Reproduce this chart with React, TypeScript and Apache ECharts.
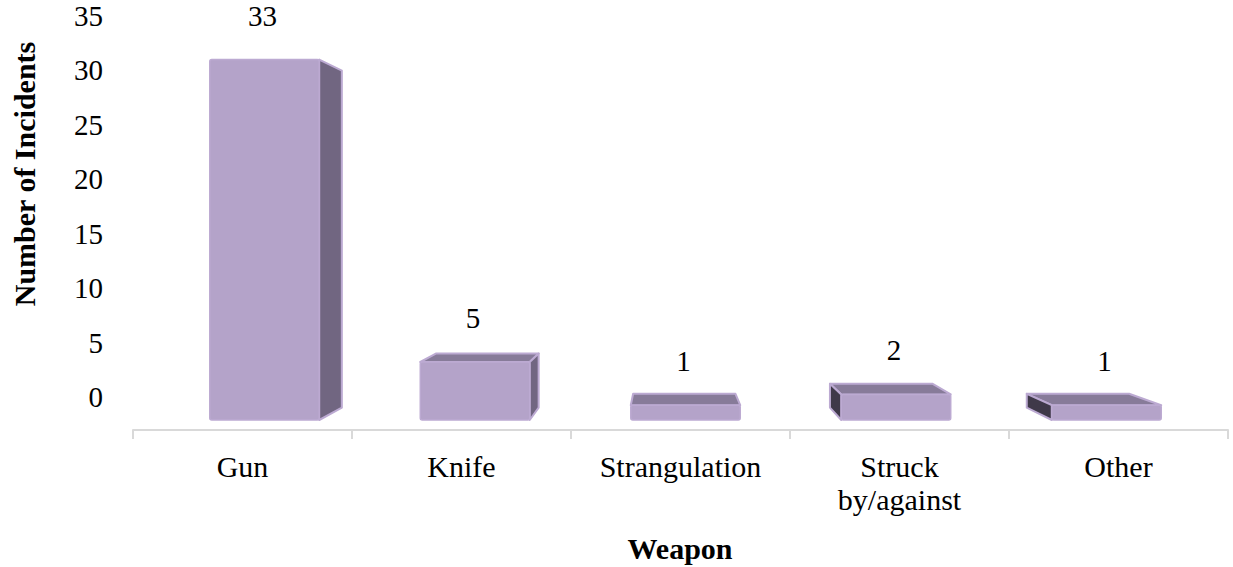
import React, { useEffect, useRef } from "react";
import * as echarts from "echarts";

const categories = ["Gun", "Knife", "Strangulation", "Struck\nby/against", "Other"];
const incidents = [33, 5, 1, 2, 1];
const valueTicks = { min: 0, max: 35, interval: 5 };

const FONT = "Liberation Serif, serif";

export default function App() {
  const ref = useRef<HTMLDivElement>(null);
  useEffect(() => {
    document.body.style.margin = "0";
    const chart = echarts.init(ref.current!, null, { renderer: "svg" });
    const DEPTH = 0.065;
    const LIFT = 4;
    const option: any = {
      animation: false,
      backgroundColor: "#ffffff",
      textStyle: { fontFamily: FONT },
      grid: [
        { left: 133, right: 5, top: 40, bottom: 137 },
        { left: 133, right: 5, top: 15.5, bottom: 170 },
        { left: 159.25, right: 21.25, top: 38, bottom: 151 },
      ],
      xAxis: [
        {
          gridIndex: 0,
          type: "category",
          data: categories,
          boundaryGap: true,
          axisLine: { show: true, lineStyle: { color: "#d9d9d9", width: 2 } },
          axisTick: { show: true, length: 9, lineStyle: { color: "#d9d9d9", width: 2 } },
          axisLabel: {
            color: "#000",
            fontSize: 30,
            fontFamily: FONT,
            lineHeight: 33,
            margin: 20,
            interval: 0,
          },
        },
        { gridIndex: 1, type: "category", data: categories, show: false },
        { gridIndex: 2, type: "category", data: categories, show: false },
      ],
      yAxis: [
        { gridIndex: 0, type: "value", min: 0, max: 35, show: false },
        {
          gridIndex: 1,
          type: "value",
          min: valueTicks.min,
          max: valueTicks.max,
          interval: valueTicks.interval,
          axisLine: { show: false },
          axisTick: { show: false },
          splitLine: { show: false },
          axisLabel: { color: "#000", fontSize: 29, fontFamily: FONT, margin: 30 },
        },
        { gridIndex: 2, type: "value", min: 0, max: 35, show: false },
      ],
      graphic: [
        {
          type: "text",
          x: 24,
          y: 174,
          rotation: Math.PI / 2,
          style: {
            text: "Number of Incidents",
            fill: "#000",
            fontSize: 30,
            fontWeight: "bold",
            fontFamily: FONT,
            align: "center",
            verticalAlign: "middle",
          },
        },
        {
          type: "text",
          x: 680,
          y: 548,
          style: {
            text: "Weapon",
            fill: "#000",
            fontSize: 30,
            fontWeight: "bold",
            fontFamily: FONT,
            align: "center",
            verticalAlign: "middle",
          },
        },
      ],
      series: [
        {
          type: "custom",
          xAxisIndex: 2,
          yAxisIndex: 2,
          data: incidents.map((v, i) => [i, v]),
          renderItem: (params: any, api: any) => {
            const i = api.value(0);
            const v = api.value(1);
            const base = api.coord([i, 0]);
            const top = api.coord([i, v]);
            const bw = api.size([1, 0])[0];
            const w = bw * 0.52;
            const cs = params.coordSys;
            const vx = cs.x + cs.width * 0.4825;
            const vy = cs.y + cs.height * 0.508;
            const x0 = base[0] - w / 2;
            const x1 = base[0] + w / 2;
            const yb = base[1] + LIFT;
            const yt = top[1];
            const back = (p: number[]) => [p[0] + (vx - p[0]) * DEPTH, p[1] + (vy - p[1]) * DEPTH];
            const FTL = [x0, yt], FTR = [x1, yt], FBR = [x1, yb], FBL = [x0, yb];
            const BTL = back(FTL), BTR = back(FTR), BBR = back(FBR), BBL = back(FBL);
            const rim = "#bcaad2";
            const children: any[] = [];
            if (vy < yt) {
              children.push({
                type: "polygon",
                shape: { points: [FTL, FTR, BTR, BTL] },
                style: { fill: "#877b99", stroke: rim, lineWidth: 2, lineJoin: "round" },
              });
            }
            if (vx > x1) {
              children.push({
                type: "polygon",
                shape: { points: [FTR, FBR, BBR, BTR] },
                style: { fill: "#716681", stroke: rim, lineWidth: 2, lineJoin: "round" },
              });
            }
            if (vx < x0) {
              children.push({
                type: "polygon",
                shape: { points: [FTL, FBL, BBL, BTL] },
                style: { fill: "#3f3949", stroke: rim, lineWidth: 2, lineJoin: "round" },
              });
            }
            children.push({
              type: "rect",
              shape: { x: x0, y: yt, width: w, height: yb - yt, r: 2 },
              style: { fill: "#b4a3c9", stroke: rim, lineWidth: 1.5 },
            });
            children.push({
              type: "text",
              style: {
                text: String(v),
                x: base[0] - 2,
                y: yt - 44,
                fill: "#000",
                fontSize: 29,
                fontFamily: FONT,
                align: "center",
                verticalAlign: "middle",
              },
            });
            return { type: "group", children };
          },
        },
      ],
    };
    chart.setOption(option);
    return () => chart.dispose();
  }, []);
  return <div ref={ref} style={{ width: 1233, height: 567 }} />;
}
